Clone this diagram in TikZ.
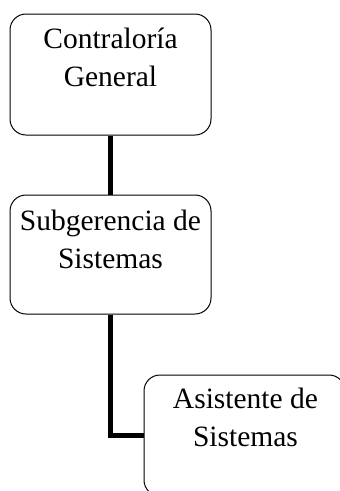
\documentclass[tikz,border=0pt]{standalone}
\usepackage{fontspec}
\setmainfont{Liberation Serif}
\usetikzlibrary{positioning}

\tikzset{
  unit/.style={draw,rounded corners=16pt,line width=1pt,minimum width=201pt,minimum height=121pt,inner sep=0pt},
  unittext/.style={align=center,inner sep=0pt,anchor=base,font=\fontsize{29.5}{38}\selectfont},
  link/.style={line width=4.5pt}
}

\begin{document}
\begin{tikzpicture}[x=1pt,y=-1pt]
\useasboundingbox (0,0) rectangle (340,491);
\clip (0,0) rectangle (340,491);
\node [unit] (cg) at (110.5,74.5) {};
\node [unit,below=59pt of cg,minimum height=119pt] (sg) {};
\node [unit] (as) at (244.5,435.5) {};
% textos
\node [unittext] (cgt) at ([yshift=-73pt]cg.north) {Contraloría\\General};
\node [unittext] (sgt) at ([yshift=-74pt]sg.north) {Subgerencia de\\Sistemas};
\node [unittext] (ast) at ([xshift=1pt,yshift=-72pt]as.north) {Asistente de\\Sistemas};
% conectores
\draw [link] (cg.south) -- (sg.north);
\draw [link] (sg.south) |- (as.west);
\end{tikzpicture}
\end{document}
